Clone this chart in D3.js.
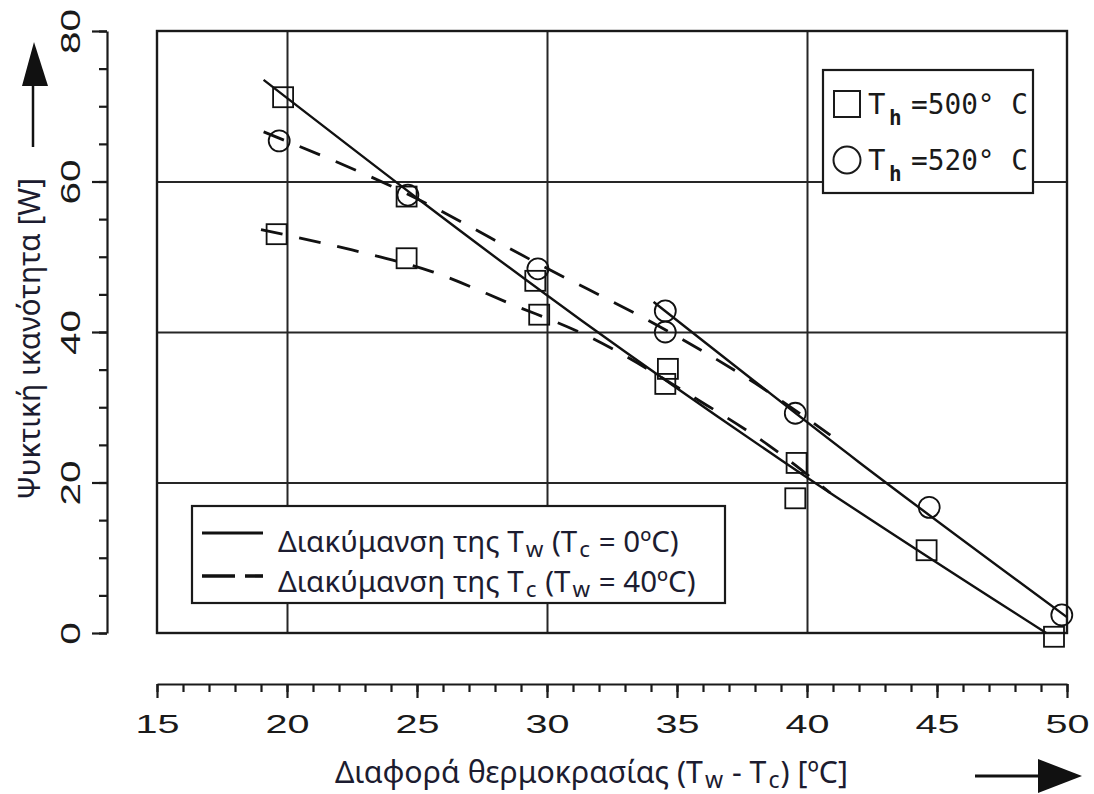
<!DOCTYPE html>
<html>
<head>
<meta charset="utf-8">
<script src="https://cdn.jsdelivr.net/npm/d3@7"></script>
<style>
    body { margin: 0; background: #fff; }
    svg { display: block; }
    .grid line { stroke: #262626; stroke-width: 2; }
    .grid .domain { display: none; }
    .axis path, .axis line { stroke: #1a1a1a; stroke-width: 2.2; }
    .tick-label { font-family: "Liberation Sans", Arial, sans-serif; fill: #1a1a1a; }
    .title { font-family: "Noto Sans", "Open Sans", sans-serif; fill: #1c1c30; }
    .mono { font-family: "DejaVu Sans Mono", "Liberation Mono", monospace; fill: #1a1a1a; }
</style>
</head>
<body>
<div id="chart"></div>
<script>
// axis ticks
const xMajorTicks = [15, 20, 25, 30, 35, 40, 45, 50];
const xMinorTicks = d3.range(15, 51, 1);
const yMajorTicks = [0, 20, 40, 60, 80];
const yMinorTicks = d3.range(0, 81, 5);
const xGridValues = [20, 30, 40];
const yGridValues = [20, 40, 60];

const squares500 = [
    [19.85, 71.2], [19.6, 53.0], [24.6, 58.0], [24.6, 49.8], [29.55, 46.8], [29.7, 42.3],
    [34.65, 35.1], [34.55, 33.1], [39.6, 22.6], [39.55, 17.9], [44.6, 11.0], [49.5, -0.5]
];
const circles520 = [
    [19.7, 65.4], [24.65, 58.2], [29.65, 48.4], [34.55, 42.8], [34.55, 40.0],
    [39.55, 29.2], [44.7, 16.7], [49.8, 2.4]
];

// fitted curves: solid = Tw varies (Tc = 0), dashed = Tc varies (Tw = 40)
const solid500 = [[19.1, 73.5], [31.3, 41.6], [39.0, 23.0], [49.2, 0]];
const solid520 = [[34.1, 44.0], [42.0, 22.7], [50.0, 2.1]];
const dashed500 = [[19.0, 53.6], [22.5, 50.9], [25.6, 48.0], [28.7, 43.6], [31.3, 39.9], [35.8, 31.0], [38.5, 25.0], [40.9, 18.6]];
const dashed520 = [[19.1, 66.6], [24.6, 58.4], [29.7, 49.0], [34.6, 40.2], [38.0, 33.2], [40.9, 26.3]];

// texts
const xTitle = [['Διαφορά θερμοκρασίας (T'], ['w', 1], [' - T'], ['c', 1], [') [ºC]']];
const yTitle = 'Ψυκτική ικανότητα [W]';
const lineLegend = [
    [['Διακύμανση της T'], ['w', 1], [' (T'], ['c', 1], [' = 0ºC)']],
    [['Διακύμανση της T'], ['c', 1], [' (T'], ['w', 1], [' = 40ºC)']]
];
const markerLegend = [
    { shape: 'square', value: '=500° C' },
    { shape: 'circle', value: '=520° C' }
];

const width = 1094, height = 794;
const frame = { left: 157, right: 1067, top: 31, bottom: 633 };

const svg = d3.select('#chart').append('svg')
    .attr('width', width)
    .attr('height', height);

const x = d3.scaleLinear().domain([15, 50]).range([frame.left, frame.right]);
const y = d3.scaleLinear().domain([0, 80]).range([frame.bottom, frame.top]);

// helper: text with subscripts, optionally squeezed to a given length
function richText(parent, parts, px, py, size, len) {
    const t = parent.append('text')
        .attr('class', 'title')
        .attr('x', px)
        .attr('y', py)
        .style('font-size', size + 'px');
    let shifted = false;
    parts.forEach(([s, sub]) => {
        const ts = t.append('tspan').text(s);
        if (sub) {
            ts.attr('dx', 2).style('font-size', '76%');
            if (!shifted) { ts.attr('dy', 5); shifted = true; }
        } else if (shifted) {
            ts.attr('dy', -5).attr('dx', 1);
            shifted = false;
        }
    });
    if (len) t.attr('textLength', len).attr('lengthAdjust', 'spacingAndGlyphs');
    return t;
}

// grid lines inside the frame
svg.append('g')
    .attr('class', 'grid')
    .attr('transform', `translate(0,${frame.bottom})`)
    .call(d3.axisBottom(x).tickValues(xGridValues).tickSize(-(frame.bottom - frame.top)).tickFormat(''));

svg.append('g')
    .attr('class', 'grid')
    .attr('transform', `translate(${frame.left},0)`)
    .call(d3.axisLeft(y).tickValues(yGridValues).tickSize(-(frame.right - frame.left)).tickFormat(''));

svg.append('rect')
    .attr('x', x(15))
    .attr('y', y(80))
    .attr('width', x(50) - x(15))
    .attr('height', y(0) - y(80))
    .attr('fill', 'none')
    .attr('stroke', '#1a1a1a')
    .attr('stroke-width', 2.4);

// curves
const line = d3.line()
    .x(d => x(d[0]))
    .y(d => y(d[1]))
    .curve(d3.curveMonotoneX);

const curves = [
    { pts: solid500, dash: null },
    { pts: solid520, dash: null },
    { pts: dashed500, dash: '22 17' },
    { pts: dashed520, dash: '22 17' }
];

svg.append('g').selectAll('path')
    .data(curves)
    .join('path')
    .attr('d', d => line(d.pts))
    .attr('fill', 'none')
    .attr('stroke', '#111')
    .attr('stroke-width', d => d.dash ? 2.8 : 2.4)
    .attr('stroke-dasharray', d => d.dash);

// markers
svg.append('g').selectAll('rect')
    .data(squares500)
    .join('rect')
    .attr('x', d => x(d[0]) - 10)
    .attr('y', d => y(d[1]) - 10)
    .attr('width', 20)
    .attr('height', 20)
    .attr('fill', 'none')
    .attr('stroke', '#111')
    .attr('stroke-width', 1.8);

svg.append('g').selectAll('circle')
    .data(circles520)
    .join('circle')
    .attr('cx', d => x(d[0]))
    .attr('cy', d => y(d[1]))
    .attr('r', 10.5)
    .attr('fill', 'none')
    .attr('stroke', '#111')
    .attr('stroke-width', 1.8);

// marker legend, top right
const mLeg = svg.append('g').attr('transform', 'translate(823,70)');
mLeg.append('rect')
    .attr('width', 210)
    .attr('height', 123)
    .attr('fill', '#fff')
    .attr('stroke', '#1a1a1a')
    .attr('stroke-width', 2.2);

markerLegend.forEach((d, i) => {
    const row = mLeg.append('g').attr('transform', `translate(0,${34 + i * 56})`);
    if (d.shape === 'square') {
        row.append('rect').attr('x', 11).attr('y', -13).attr('width', 26).attr('height', 26);
    } else {
        row.append('circle').attr('cx', 24).attr('cy', 0).attr('r', 13.5);
    }
    row.selectAll('rect, circle')
        .attr('fill', 'none')
        .attr('stroke', '#1a1a1a')
        .attr('stroke-width', 2);
    row.append('text').attr('class', 'mono')
        .attr('x', 45).attr('y', 10)
        .style('font-size', '29px')
        .text('T');
    row.append('text').attr('class', 'mono')
        .attr('x', 66).attr('y', 21)
        .style('font-size', '21px')
        .style('font-weight', 'bold')
        .text('h');
    row.append('text').attr('class', 'mono')
        .attr('x', 88).attr('y', 10)
        .style('font-size', '29px')
        .attr('textLength', 117)
        .attr('lengthAdjust', 'spacingAndGlyphs')
        .text(d.value);
});

// line-style legend, bottom left
const lLeg = svg.append('g').attr('transform', 'translate(192,506)');
lLeg.append('rect')
    .attr('width', 533)
    .attr('height', 97)
    .attr('fill', '#fff')
    .attr('stroke', '#1a1a1a')
    .attr('stroke-width', 2.2);

lLeg.append('line')
    .attr('x1', 10).attr('x2', 71)
    .attr('y1', 27).attr('y2', 27)
    .attr('stroke', '#111')
    .attr('stroke-width', 3);

lLeg.append('line')
    .attr('x1', 10).attr('x2', 71)
    .attr('y1', 70).attr('y2', 70)
    .attr('stroke', '#111')
    .attr('stroke-width', 3.6)
    .attr('stroke-dasharray', '33 10');

richText(lLeg, lineLegend[0], 86, 46, 29.5);
richText(lLeg, lineLegend[1], 86, 86, 29.5);

// y axis, separate from the frame
const yAxisG = svg.append('g')
    .attr('class', 'axis')
    .attr('transform', 'translate(107,0)');

yAxisG.append('g')
    .call(d3.axisLeft(y).tickValues(yMinorTicks).tickSize(8).tickSizeOuter(0).tickFormat(''));

yAxisG.append('g')
    .call(d3.axisLeft(y).tickValues(yMajorTicks).tickSize(15).tickSizeOuter(0))
    .call(g => g.select('.domain').remove())
    .call(g => g.selectAll('text')
        .attr('class', 'tick-label')
        .attr('x', null)
        .attr('dy', null)
        .attr('text-anchor', 'middle')
        .attr('transform', 'translate(-27,0) rotate(-90)')
        .style('font-size', '28px')
        .attr('textLength', d => 22.5 * String(d).length)
        .attr('lengthAdjust', 'spacingAndGlyphs'));

// x axis, below the frame
const xAxisG = svg.append('g')
    .attr('class', 'axis')
    .attr('transform', 'translate(0,684)');

xAxisG.append('g')
    .call(d3.axisBottom(x).tickValues(xMinorTicks).tickSize(8).tickSizeOuter(0).tickFormat(''));

xAxisG.append('g')
    .call(d3.axisBottom(x).tickValues(xMajorTicks).tickSize(14).tickSizeOuter(0))
    .call(g => g.select('.domain').remove())
    .call(g => g.selectAll('text')
        .attr('class', 'tick-label')
        .attr('y', 49)
        .attr('dy', null)
        .style('font-size', '25px')
        .attr('textLength', 44)
        .attr('lengthAdjust', 'spacingAndGlyphs'));

// axis titles and arrows
richText(svg, xTitle, 335, 783, 30, 513);

svg.append('text')
    .attr('class', 'title')
    .attr('transform', 'translate(40,500) rotate(-90)')
    .style('font-size', '31px')
    .attr('textLength', 322)
    .attr('lengthAdjust', 'spacingAndGlyphs')
    .text(yTitle);

svg.append('line')
    .attr('x1', 33).attr('x2', 33)
    .attr('y1', 147).attr('y2', 84)
    .attr('stroke', '#111')
    .attr('stroke-width', 2.5);
svg.append('path')
    .attr('d', 'M22,86 L48,86 L34,42 Z')
    .attr('fill', '#111');

svg.append('line')
    .attr('x1', 975).attr('x2', 1042)
    .attr('y1', 776).attr('y2', 776)
    .attr('stroke', '#111')
    .attr('stroke-width', 3);
svg.append('path')
    .attr('d', 'M1038,759 L1038,793 L1082,776 Z')
    .attr('fill', '#111');
</script>
</body>
</html>
